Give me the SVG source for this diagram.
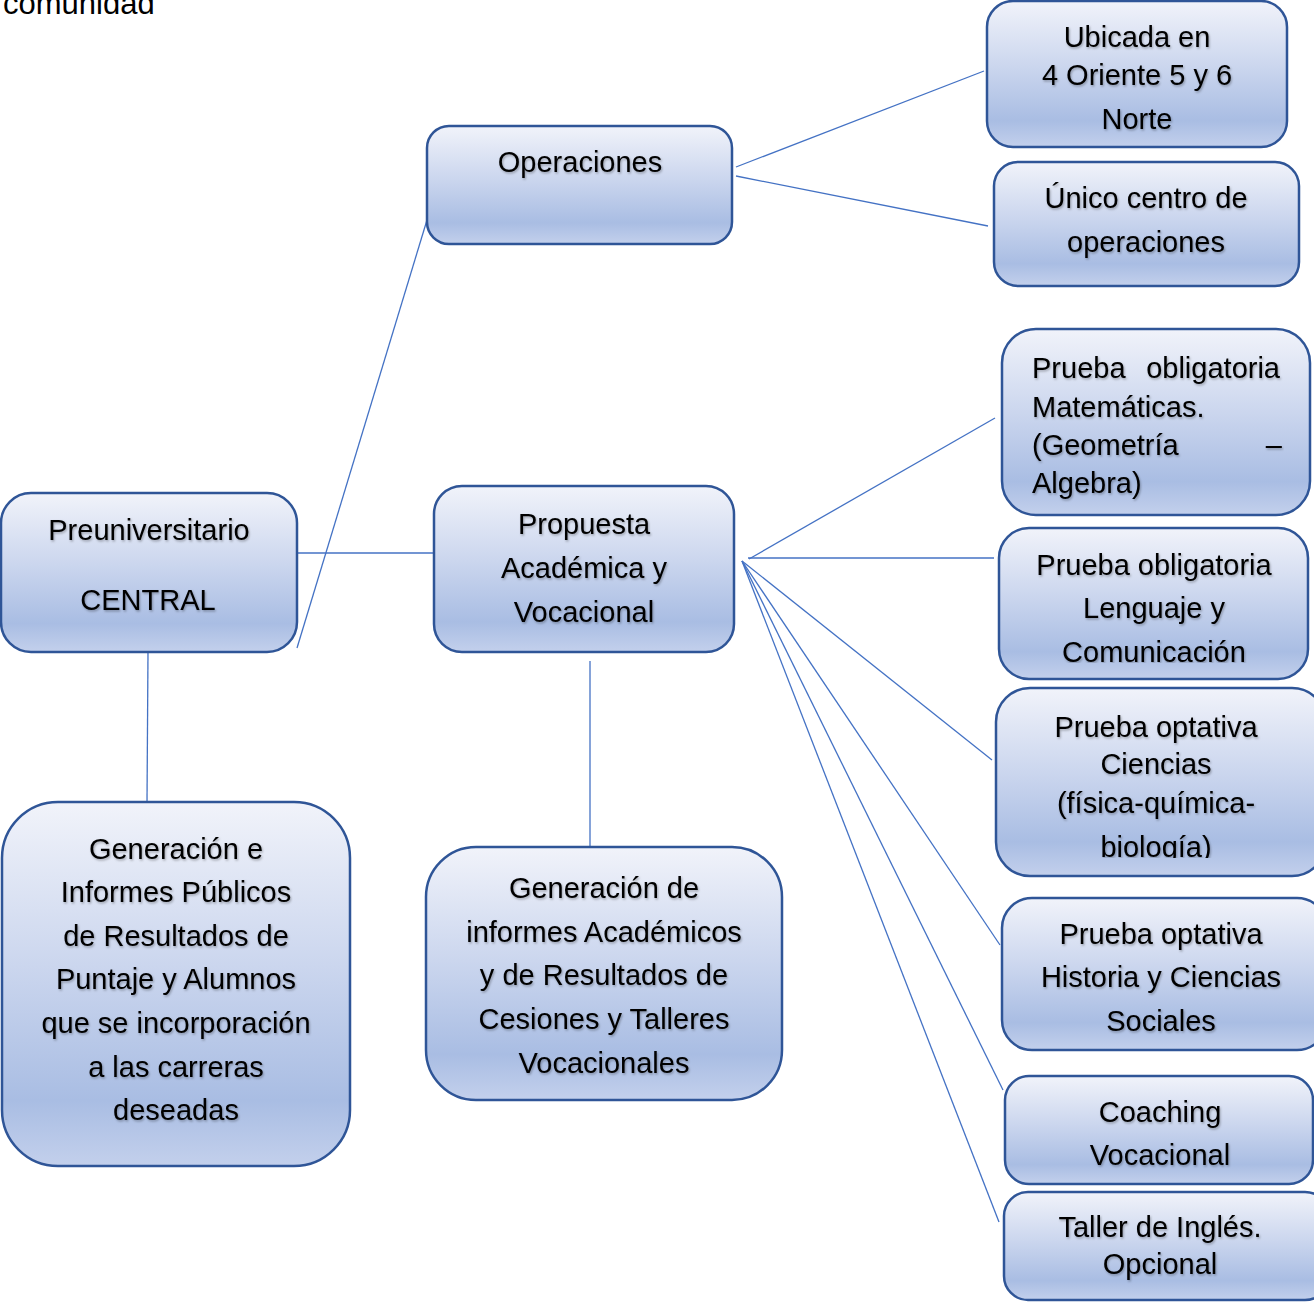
<svg xmlns="http://www.w3.org/2000/svg" width="1314" height="1302" viewBox="0 0 1314 1302">
<defs>
<linearGradient id="g" x1="0" y1="0" x2="0" y2="1">
<stop offset="0" stop-color="#f1f3fa"/>
<stop offset="0.45" stop-color="#cbd6ee"/>
<stop offset="0.82" stop-color="#a9bde3"/>
<stop offset="1" stop-color="#c3d0ec"/>
</linearGradient>
<filter id="ts" x="-5%" y="-20%" width="110%" height="150%">
<feDropShadow dx="1" dy="1.5" stdDeviation="1.2" flood-color="#000" flood-opacity="0.3"/>
</filter>
<clipPath id="clipLeng"><rect x="990" y="520" width="330" height="143"/></clipPath>
<clipPath id="clipCien"><rect x="990" y="680" width="330" height="178"/></clipPath>
</defs>
<style>
.box{fill:url(#g);stroke:#2f5597;stroke-width:2.5}
.t{font-family:"Liberation Sans",Arial,sans-serif;font-size:29px;fill:#000;text-anchor:middle;filter:url(#ts)}
.l{text-anchor:start}
.e{text-anchor:end}
.c{stroke:#4472c4;stroke-width:1.3;fill:none}
</style>
<rect width="1314" height="1302" fill="#fff"/>
<text x="3" y="14" style="font-family:'Liberation Sans',Arial,sans-serif;font-size:31px;fill:#000">comunidad</text>
<g id="connectors">
<line class="c" x1="297" y1="553" x2="434" y2="553"/>
<line class="c" x1="297" y1="648" x2="427" y2="220"/>
<line class="c" x1="148" y1="652" x2="147" y2="802"/>
<line class="c" x1="590" y1="661" x2="590" y2="847"/>
<line class="c" x1="736" y1="167" x2="984" y2="71"/>
<line class="c" x1="736" y1="176" x2="988" y2="226"/>
<line class="c" x1="749" y1="559" x2="995" y2="418"/>
<line class="c" x1="748" y1="558" x2="994" y2="558"/>
<line class="c" x1="742" y1="561" x2="992" y2="760"/>
<line class="c" x1="742" y1="561" x2="1000" y2="945"/>
<line class="c" x1="742" y1="561" x2="1003" y2="1090"/>
<line class="c" x1="742" y1="561" x2="999" y2="1222"/>
</g>
<g id="preuniversitario">
<rect class="box" x="1" y="493" width="296" height="159" rx="30"/>
<text class="t" x="149" y="540">Preuniversitario</text>
<text class="t" x="148" y="610">CENTRAL</text>
</g>
<g id="operaciones">
<rect class="box" x="427" y="126" width="305" height="118" rx="22"/>
<text class="t" x="580" y="172">Operaciones</text>
</g>
<g id="propuesta">
<rect class="box" x="434" y="486" width="300" height="166" rx="28"/>
<text class="t" x="584" y="534">Propuesta</text>
<text class="t" x="584" y="578">Académica y</text>
<text class="t" x="584" y="622">Vocacional</text>
</g>
<g id="ubicada">
<rect class="box" x="987" y="1" width="300" height="146" rx="26"/>
<text class="t" x="1137" y="47">Ubicada en</text>
<text class="t" x="1137" y="85">4 Oriente 5 y 6</text>
<text class="t" x="1137" y="129">Norte</text>
</g>
<g id="unico">
<rect class="box" x="994" y="162" width="305" height="124" rx="24"/>
<text class="t" x="1146" y="208">Único centro de</text>
<text class="t" x="1146" y="252">operaciones</text>
</g>
<g id="matematicas">
<rect class="box" x="1002" y="329" width="308" height="186" rx="34"/>
<text class="t l" x="1032" y="378">Prueba</text>
<text class="t e" x="1280" y="378">obligatoria</text>
<text class="t l" x="1032" y="417">Matemáticas.</text>
<text class="t l" x="1032" y="455">(Geometría</text>
<text class="t e" x="1282" y="455">–</text>
<text class="t l" x="1032" y="493">Algebra)</text>
</g>
<g id="lenguaje">
<rect class="box" x="999" y="528" width="309" height="151" rx="30"/>
<text class="t" x="1154" y="575">Prueba obligatoria</text>
<text class="t" x="1154" y="618">Lenguaje y</text>
<text class="t" x="1154" y="662" clip-path="url(#clipLeng)">Comunicación</text>
</g>
<g id="ciencias">
<rect class="box" x="996" y="688" width="330" height="188" rx="34"/>
<text class="t" x="1156" y="737">Prueba optativa</text>
<text class="t" x="1156" y="774">Ciencias</text>
<text class="t" x="1156" y="813">(física-química-</text>
<text class="t" x="1156" y="857" clip-path="url(#clipCien)">biología)</text>
</g>
<g id="historia">
<rect class="box" x="1002" y="898" width="325" height="152" rx="30"/>
<text class="t" x="1161" y="944">Prueba optativa</text>
<text class="t" x="1161" y="987">Historia y Ciencias</text>
<text class="t" x="1161" y="1031">Sociales</text>
</g>
<g id="coaching">
<rect class="box" x="1005" y="1076" width="308" height="108" rx="24"/>
<text class="t" x="1160" y="1122">Coaching</text>
<text class="t" x="1160" y="1165">Vocacional</text>
</g>
<g id="taller">
<rect class="box" x="1004" y="1192" width="325" height="108" rx="24"/>
<text class="t" x="1160" y="1237">Taller de Inglés.</text>
<text class="t" x="1160" y="1274">Opcional</text>
</g>
<g id="generacion-publicos">
<rect class="box" x="2" y="802" width="348" height="364" rx="56"/>
<text class="t" x="176" y="859">Generación e</text>
<text class="t" x="176" y="902">Informes Públicos</text>
<text class="t" x="176" y="946">de Resultados de</text>
<text class="t" x="176" y="989">Puntaje y Alumnos</text>
<text class="t" x="176" y="1033">que se incorporación</text>
<text class="t" x="176" y="1077">a las carreras</text>
<text class="t" x="176" y="1120">deseadas</text>
</g>
<g id="generacion-academicos">
<rect class="box" x="426" y="847" width="356" height="253" rx="50"/>
<text class="t" x="604" y="898">Generación de</text>
<text class="t" x="604" y="942">informes Académicos</text>
<text class="t" x="604" y="985">y de Resultados de</text>
<text class="t" x="604" y="1029">Cesiones y Talleres</text>
<text class="t" x="604" y="1073">Vocacionales</text>
</g>
</svg>
